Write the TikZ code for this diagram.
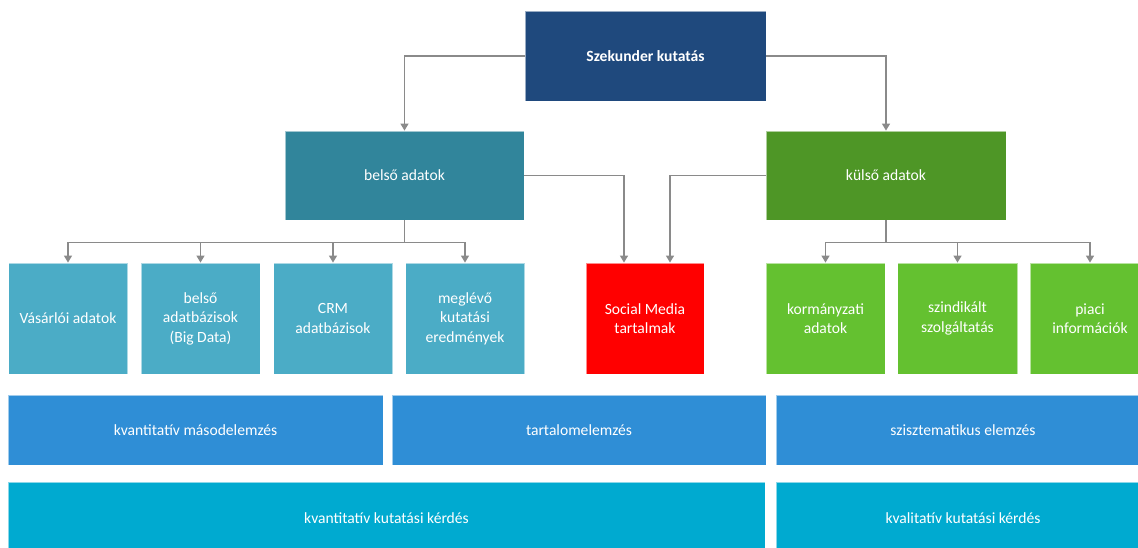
\documentclass[tikz,border=0pt]{standalone}
\usepackage{fontspec}
\setmainfont{Carlito}
\usetikzlibrary{arrows.meta,calc}

\definecolor{cTop}{RGB}{31,73,125}
\definecolor{cBelso}{RGB}{49,133,155}
\definecolor{cKulso}{RGB}{78,150,38}
\definecolor{cIntern}{RGB}{75,172,198}
\definecolor{cSocial}{RGB}{255,0,0}
\definecolor{cExtern}{RGB}{100,193,48}
\definecolor{cMethod}{RGB}{47,142,214}
\definecolor{cQuestion}{RGB}{0,170,208}
\definecolor{cLine}{RGB}{138,138,138}

\tikzset{
  box/.style={rectangle, draw=white, draw opacity=0.55, line width=0.8pt,
    text=white, align=center, inner sep=2pt,
    font=\fontsize{15.6}{19.5}\selectfont},
  conn/.style={draw=cLine, line width=1.3pt,
    -{Triangle[width=8pt,length=7pt]}},
  plain/.style={draw=cLine, line width=1.3pt},
}

\begin{document}
\begin{tikzpicture}[x=1pt,y=-1pt]
\useasboundingbox (0,0) rectangle (1138,547);

% top level
\node[box, fill=cTop, minimum width=241, minimum height=90,
  font=\fontsize{15.6}{19.5}\selectfont\bfseries] (top) at (645.5,56) {Szekunder kutatás};

% second level
\node[box, fill=cBelso, minimum width=239, minimum height=89] (belso) at (404.5,175.5) {belső adatok};
\node[box, fill=cKulso, minimum width=240, minimum height=89] (kulso) at (886,175.5) {külső adatok};

% internal sources
\node[box, fill=cIntern, minimum width=119, minimum height=111] (vas) at (68,318.5) {Vásárlói adatok};
\node[box, fill=cIntern, minimum width=119, minimum height=111] (bigd) at (200.5,318.5) {belső\\adatbázisok\\(Big Data)};
\node[box, fill=cIntern, minimum width=119, minimum height=111] (crm) at (333,318.5) {CRM\\adatbázisok};
\node[box, fill=cIntern, minimum width=119, minimum height=111] (megl) at (465,318.5) {meglévő\\kutatási\\eredmények};

% shared source
\node[box, fill=cSocial, minimum width=118, minimum height=111] (social) at (645,318.5) {Social Media\\tartalmak};

% external sources
\node[box, fill=cExtern, minimum width=119, minimum height=111] (korm) at (825.5,318.5) {kormányzati\\adatok};
\node[box, fill=cExtern, minimum width=120, minimum height=111] (szind) at (957.5,318.5) {szindikált\\szolgáltatás};
\node[box, fill=cExtern, minimum width=120, minimum height=111] (piaci) at (1090,318.5) {piaci\\információk};

% analysis methods
\node[box, fill=cMethod, minimum width=375, minimum height=70] (kvm) at (195.5,430) {kvantitatív másodelemzés};
\node[box, fill=cMethod, minimum width=374, minimum height=70] (tart) at (579,430) {tartalomelemzés};
\node[box, fill=cMethod, minimum width=374, minimum height=70] (szisz) at (963,430) {szisztematikus elemzés};

% research questions
\node[box, fill=cQuestion, minimum width=757, minimum height=72] (kvq) at (386.5,518) {kvantitatív kutatási kérdés};
\node[box, fill=cQuestion, minimum width=374, minimum height=72] (klq) at (963,518) {kvalitatív kutatási kérdés};

% connectors from the top
\draw[conn] (top.west) -| (belso.north);
\draw[conn] (top.east) -| (kulso.north);

% internal branch
\coordinate (bj) at ($(belso.south)+(0,22)$);
\draw[plain] (belso.south) -- (bj);
\foreach \c in {vas,bigd,crm,megl}
  \draw[conn] (bj) -| (\c.north);

% external branch
\coordinate (kj) at ($(kulso.south)+(0,22)$);
\draw[plain] (kulso.south) -- (kj);
\foreach \c in {korm,szind,piaci}
  \draw[conn] (kj) -| (\c.north);

% both branches feed the social media node
\draw[conn] (belso.east) -| ($(social.north)+(-21,0)$);
\draw[conn] (kulso.west) -| ($(social.north)+(25,0)$);

\end{tikzpicture}
\end{document}
